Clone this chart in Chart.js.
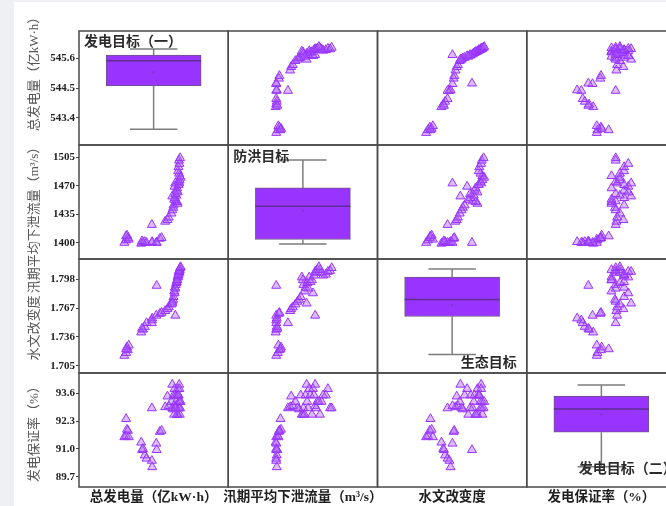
<!DOCTYPE html>
<html>
<head>
<meta charset="utf-8">
<script src="https://cdn.jsdelivr.net/npm/chart.js@4/dist/chart.umd.min.js"></script>
<style>
  html, body { margin: 0; padding: 0; background: #eff0f3; overflow: hidden; width: 666px; height: 506px; }
  #wrap { position: absolute; left: 14px; top: 2px; width: 680px; height: 504px; background: #ffffff; }
  canvas { display: block; }
</style>
</head>
<body>
<div id="wrap"><canvas id="matrix" width="680" height="504"></canvas></div>
<script>
// Variable names, axis ranges and tick labels
const varNames = ['总发电量（亿kW·h）', '汛期平均下泄流量（m³/s）', '水文改变度', '发电保证率（%）'];
const axisRanges = [[542.4, 546.6], [1380, 1520], [1.6974, 1.8196], [89.22, 94.54]];
const tickValues = [[543.4, 544.5, 545.6], [1400, 1435, 1470, 1505], [1.705, 1.736, 1.767, 1.798], [89.7, 91.0, 92.3, 93.6]];
const tickLabels = [['543.4', '544.5', '545.6'], ['1400', '1435', '1470', '1505'], ['1.705', '1.736', '1.767', '1.798'], ['89.7', '91.0', '92.3', '93.6']];

// Scheme samples: total generation, mean flood-season discharge, hydrologic alteration, generation guarantee rate
const genTotal = [
  542.85, 542.95, 543.05, 543.00, 543.10, 542.95,
  543.80, 543.90, 544.00, 544.10, 543.85, 544.40, 544.42, 544.65, 544.85, 544.95, 544.67,
  544.40, 545.15, 545.28, 545.35, 545.50, 545.60, 545.72,
  545.55, 545.62, 545.85, 545.82, 545.75, 545.70, 545.55, 545.78, 545.86, 545.80, 545.83, 545.68, 545.90,
  545.94, 545.92, 545.96, 545.97, 545.93, 545.88, 545.90, 545.95, 545.93, 545.99, 545.72, 546.02, 545.66
];
const floodFlow = [
  1400, 1403, 1406, 1409, 1404, 1408,
  1399, 1400, 1401, 1400, 1402, 1400, 1401, 1400, 1405, 1406, 1400,
  1422, 1426, 1428, 1431, 1436, 1443, 1473,
  1440, 1446, 1448, 1450, 1451, 1455, 1457, 1458, 1462, 1464, 1467, 1469, 1471,
  1473, 1475, 1477, 1482, 1485, 1488, 1493, 1497, 1501, 1504, 1460, 1480, 1453
];
const hydroAlt = [
  1.716, 1.719, 1.722, 1.725, 1.727, 1.723,
  1.741, 1.744, 1.747, 1.751, 1.745, 1.754, 1.756, 1.759, 1.761, 1.762, 1.791,
  1.751, 1.764, 1.766, 1.768, 1.771, 1.776, 1.759,
  1.774, 1.779, 1.800, 1.797, 1.792, 1.789, 1.772, 1.794, 1.800, 1.795, 1.797, 1.783, 1.802,
  1.806, 1.805, 1.808, 1.808, 1.805, 1.802, 1.803, 1.806, 1.807, 1.810, 1.788, 1.811, 1.785
];
const genRate = [
  91.55, 91.60, 91.85, 91.90, 91.55, 92.40,
  91.30, 91.00, 90.70, 90.55, 90.95, 90.45, 90.15, 91.25, 91.80, 91.85, 90.95,
  92.90, 92.95, 93.45, 93.00, 93.20, 92.85, 93.00,
  92.9, 93.5, 92.6, 92.6, 92.9, 93.5, 94.0, 93.2, 93.8, 93.5, 92.6, 93.8, 93.5,
  94.0, 92.9, 93.2, 92.6, 93.2, 93.5, 93.5, 93.8, 92.9, 92.9, 92.9, 93.2, 92.6
];

// Box statistics per variable (diagonal panels)
const boxLow    = [542.98, 1398.3, 1.7173, 90.16];
const boxQ1     = [544.58, 1404.0, 1.7580, 91.78];
const boxMedian = [545.50, 1444.9, 1.7761, 92.86];
const boxQ3     = [545.71, 1467.3, 1.8002, 93.46];
const boxHigh   = [545.94, 1501.6, 1.8088, 93.98];
const boxMean   = [545.08, 1439.0, 1.7700, 92.60];

const goalLabels = ['发电目标（一）', '防洪目标', '生态目标', '发电目标（二）'];

// ---- drawing setup ----
const series = [genTotal, floodFlow, hydroAlt, genRate];
const purple = '#9933ff';
const boxWidth = 95;
const cjkFont = '"Liberation Serif", "Noto Sans CJK SC", serif';

const midOf = k => (axisRanges[k][0] + axisRanges[k][1]) / 2;

const datasets = [];
for (let r = 0; r < 4; r++) {
  for (let c = 0; c < 4; c++) {
    if (r === c) {
      datasets.push({
        type: 'bar',
        xAxisID: 'x' + c,
        yAxisID: 'y' + r,
        data: [{ x: midOf(c), y: [boxQ1[r], boxQ3[r]] }],
        backgroundColor: purple,
        borderColor: '#6c5a80',
        borderWidth: 1,
        borderSkipped: false,
        barThickness: boxWidth,
        grouped: false
      });
    } else {
      datasets.push({
        type: 'scatter',
        xAxisID: 'x' + c,
        yAxisID: 'y' + r,
        data: series[c].map((v, i) => ({ x: v, y: series[r][i] })),
        pointStyle: 'triangle',
        pointRadius: 5.2,
        borderWidth: 1,
        borderColor: purple,
        backgroundColor: 'rgba(165, 90, 255, 0.4)'
      });
    }
  }
}

const scales = {};
for (let k = 0; k < 4; k++) {
  scales['x' + k] = {
    type: 'linear',
    position: 'bottom',
    stack: 'cols',
    stackWeight: 1,
    min: axisRanges[k][0],
    max: axisRanges[k][1],
    ticks: { display: false },
    grid: { display: false },
    border: { display: false },
    afterFit(s) { s.height = 19; }
  };
  scales['y' + k] = {
    type: 'linear',
    position: 'left',
    stack: 'rows',
    stackWeight: 1,
    weight: 4 - k,
    min: axisRanges[k][0],
    max: axisRanges[k][1],
    afterBuildTicks(s) { s.ticks = tickValues[k].map(v => ({ value: v })); },
    ticks: {
      callback: (v, i) => tickLabels[k][i],
      font: { family: '"Liberation Serif", serif', weight: 'bold', size: 11 },
      color: '#222',
      padding: 1,
      autoSkip: false
    },
    grid: { display: true, drawOnChartArea: false, drawTicks: true, tickLength: 3, color: '#444' },
    border: { display: false },
    afterFit(s) { s.width = 65; }
  };
}

// label placement inside the diagonal panels
const goalPlacement = [
  { align: 'left',  dx: 5,   fromTop: 11 },
  { align: 'left',  dx: 5,   fromTop: 12 },
  { align: 'right', dx: -10, fromBottom: 10 },
  { align: 'left',  dx: 52,  fromBottom: 18 }
];
// vertical shift of each row title from its row centre
const rowTitleShift = [-17, 15, 12, 1];

const matrixDecor = {
  id: 'matrixDecor',
  afterDatasetsDraw(chart) {
    const ctx = chart.ctx;
    for (let k = 0; k < 4; k++) {
      const xs = chart.scales['x' + k];
      const ys = chart.scales['y' + k];
      const cx = xs.getPixelForValue(midOf(k));
      const half = boxWidth / 2;
      const cap = boxWidth / 4;
      const yLow = ys.getPixelForValue(boxLow[k]);
      const yHigh = ys.getPixelForValue(boxHigh[k]);
      const yQ1 = ys.getPixelForValue(boxQ1[k]);
      const yQ3 = ys.getPixelForValue(boxQ3[k]);
      const yMed = ys.getPixelForValue(boxMedian[k]);
      ctx.save();
      // whiskers and caps
      ctx.strokeStyle = '#7d7d7d';
      ctx.lineWidth = 1.5;
      ctx.beginPath();
      ctx.moveTo(cx, yQ3); ctx.lineTo(cx, yHigh);
      ctx.moveTo(cx, yQ1); ctx.lineTo(cx, yLow);
      ctx.moveTo(cx - cap, yHigh); ctx.lineTo(cx + cap, yHigh);
      ctx.moveTo(cx - cap, yLow); ctx.lineTo(cx + cap, yLow);
      ctx.stroke();
      // median
      ctx.strokeStyle = '#5e2f8f';
      ctx.lineWidth = 1.5;
      ctx.beginPath();
      ctx.moveTo(cx - half, yMed); ctx.lineTo(cx + half, yMed);
      ctx.stroke();
      // mean
      ctx.fillStyle = 'rgba(110, 60, 160, 0.6)';
      ctx.beginPath();
      ctx.arc(cx, ys.getPixelForValue(boxMean[k]), 1.2, 0, Math.PI * 2);
      ctx.fill();
      // goal label
      const p = goalPlacement[k];
      ctx.font = '600 14px ' + cjkFont;
      ctx.fillStyle = '#2b2b2b';
      ctx.textBaseline = 'middle';
      ctx.textAlign = p.align;
      const tx = p.align === 'left' ? xs.left + p.dx : xs.right + p.dx;
      const ty = p.fromTop !== undefined ? ys.top + p.fromTop : ys.bottom - p.fromBottom;
      ctx.fillText(goalLabels[k], tx, ty);
      ctx.restore();
    }
  },
  afterDraw(chart) {
    const ctx = chart.ctx;
    ctx.save();
    // panel frames
    ctx.strokeStyle = '#4a4a4a';
    ctx.lineWidth = 1.5;
    for (let r = 0; r < 4; r++) {
      const ys = chart.scales['y' + r];
      for (let c = 0; c < 4; c++) {
        const xs = chart.scales['x' + c];
        ctx.strokeRect(xs.left, ys.top, xs.right - xs.left, ys.bottom - ys.top);
      }
    }
    // column titles
    ctx.textBaseline = 'middle';
    ctx.textAlign = 'center';
    ctx.fillStyle = '#1f1f1f';
    ctx.font = '600 13.5px ' + cjkFont;
    for (let c = 0; c < 4; c++) {
      const xs = chart.scales['x' + c];
      ctx.fillText(varNames[c], (xs.left + xs.right) / 2, xs.top + 11);
    }
    // row titles
    ctx.fillStyle = '#555555';
    ctx.font = '13px ' + cjkFont;
    for (let r = 0; r < 4; r++) {
      const ys = chart.scales['y' + r];
      ctx.save();
      ctx.translate(ys.left + 21, (ys.top + ys.bottom) / 2 + rowTitleShift[r]);
      ctx.rotate(-Math.PI / 2);
      ctx.fillText(varNames[r], 0, 0);
      ctx.restore();
    }
    ctx.restore();
  }
};

new Chart(document.getElementById('matrix'), {
  type: 'scatter',
  data: { datasets },
  options: {
    responsive: false,
    animation: false,
    layout: { padding: { top: 29, right: 18, bottom: 0, left: 0 } },
    plugins: { legend: { display: false }, tooltip: { enabled: false } },
    events: [],
    scales
  },
  plugins: [matrixDecor]
});
</script>
</body>
</html>
